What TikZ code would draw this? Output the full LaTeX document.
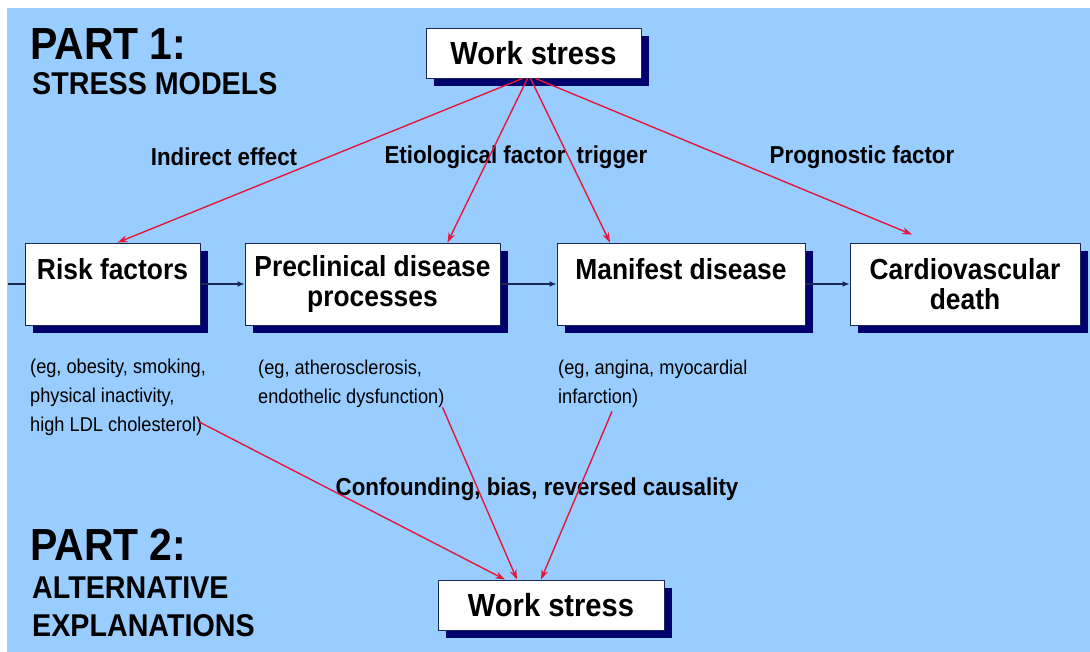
\documentclass[tikz,border=0pt]{standalone}
\usepackage{fontspec}
\setmainfont{Liberation Sans}[FakeStretch=0.91]
\usepackage{tikz}
\usetikzlibrary{shapes.geometric, arrows, arrows.meta, positioning, shadows}
\definecolor{bgblue}{RGB}{153,204,255}
\definecolor{shadownavy}{RGB}{0,0,110}
\definecolor{linkred}{RGB}{228,24,60}
\definecolor{flownavy}{RGB}{25,40,85}
\tikzstyle{box} = [rectangle, draw=flownavy, fill=white, line width=0.9pt, general shadow={fill=shadownavy, shadow xshift=8pt, shadow yshift=-8pt}, align=center, inner sep=0pt, font=\bfseries\fontsize{29}{30}\selectfont]
\tikzstyle{stressbox} = [box, minimum width=215pt, minimum height=50pt, font=\bfseries\fontsize{32}{34}\selectfont]
\tikzstyle{arrow} = [line width=1.4pt, -{Stealth[length=10pt, width=7pt]}, draw=linkred]
\tikzstyle{flow} = [line width=1.5pt, -{Latex[length=7pt, width=6pt]}, draw=flownavy]
\tikzstyle{effect} = [font=\bfseries\fontsize{24.5}{26}\selectfont, inner sep=0pt]
\tikzstyle{example} = [font=\fontsize{20}{29}\selectfont, align=left, anchor=base west, inner sep=0pt]
\tikzstyle{parthead} = [font=\bfseries\fontsize{45}{46}\selectfont, anchor=base west, inner sep=0pt]
\tikzstyle{partsub} = [font=\bfseries\fontsize{31.5}{38}\selectfont, align=left, anchor=base west, inner sep=0pt]

\begin{document}
\begin{tikzpicture}[x=1pt, y=-1pt]
\useasboundingbox (0,0) rectangle (1090,652);
\fill[bgblue] (7,8) rectangle (1090,652);

% part 1
\node (p1) [parthead] at (30,60) {PART 1:};
\node (p1sub) [partsub] at (32,95) {STRESS MODELS};
\node (top) [stressbox] at (533.5,53) {Work stress};

\node (risk) [box, minimum width=175pt, minimum height=82pt] at (112.5,284) {Risk factors\\~};
\node (pre) [box, minimum width=255pt, minimum height=82pt] at (372.5,284) {Preclinical disease\\processes};
\node (man) [box, minimum width=248pt, minimum height=82pt] at (681,284) {Manifest disease\\~};
\node (cardio) [box, minimum width=230pt, minimum height=82pt] at (965,284) {Cardiovascular\\death};

\node (indirect) [effect] at (224,157) {Indirect effect};
\node (etio) [effect] at (475,157) {Etiological factor};
\node (trig) [effect] at (612,157) {trigger};
\node (progn) [effect] at (862,157) {Prognostic factor};

\draw [arrow] ([xshift=-11pt]top.south) -- ([xshift=5pt]risk.north);
\draw [arrow] ([xshift=-6pt]top.south) -- ([xshift=75pt]pre.north);
\draw [arrow] ([xshift=-3pt]top.south) -- ([xshift=-71pt]man.north);
\draw [arrow] ([xshift=2pt]top.south) -- ([xshift=-53pt, yshift=8pt]cardio.north);

\coordinate (edge) at (8,284);
\draw [flow, -] (edge) -- (risk.west);
\draw [flow] (risk.east) -- (pre.west);
\draw [flow] (pre.east) -- (man.west);
\draw [flow] (man.east) -- (cardio.west);

\node (riskex) [example] at (30,431) {(eg, obesity, smoking,\\physical inactivity,\\high LDL cholesterol)};
\node (preex) [example] at (258,403) {(eg, atherosclerosis,\\endothelic dysfunction)};
\node (manex) [example] at (558,403) {(eg, angina, myocardial\\infarction)};

% part 2
\node (conf) [effect] at (537,489) {Confounding, bias, reversed causality};
\node (p2) [parthead] at (30,560) {PART 2:};
\node (p2sub) [partsub] at (32,636) {ALTERNATIVE\\EXPLANATIONS};
\node (bottom) [stressbox, minimum width=226pt] at (551,605) {Work stress};

\draw [arrow] ([xshift=-8pt, yshift=14pt]riskex.south east) -- ([xshift=-46pt]bottom.north);
\draw [arrow] ([xshift=-2pt]preex.south east) -- ([xshift=-34pt]bottom.north);
\draw [arrow] ([xshift=54pt, yshift=-4pt]manex.south west) -- ([xshift=-10pt]bottom.north);
\end{tikzpicture}
\end{document}
